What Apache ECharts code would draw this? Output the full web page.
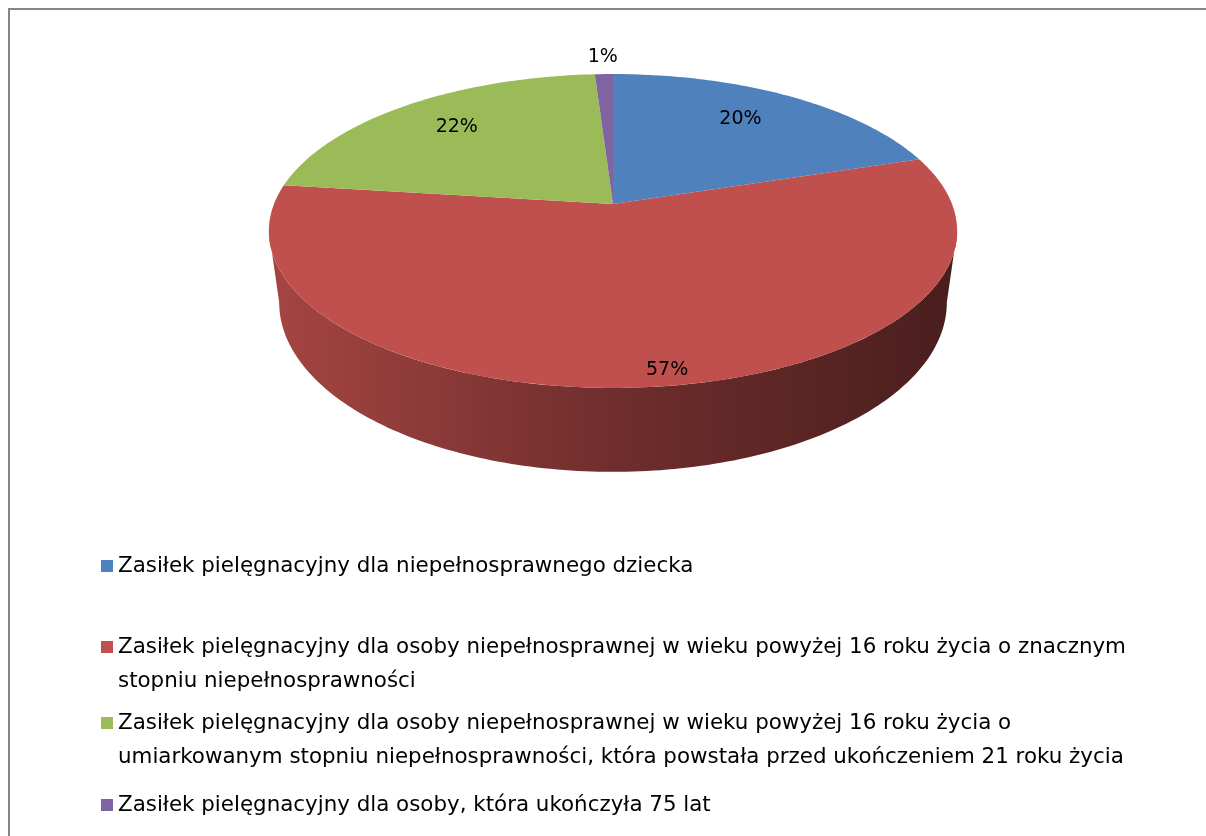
<!DOCTYPE html>
<html>
<head>
<meta charset="utf-8">
<script src="https://cdn.jsdelivr.net/npm/echarts@6/dist/echarts.min.js"></script>
<style>
  html, body { margin: 0; background: #fff; }
  #chart { width: 1206px; height: 836px; }
</style>
</head>
<body>
<div id="chart"></div>
<script>
const categories = [
  'Zasiłek pielęgnacyjny dla niepełnosprawnego dziecka',
  'Zasiłek pielęgnacyjny dla osoby niepełnosprawnej w wieku powyżej 16 roku życia o znacznym stopniu niepełnosprawności',
  'Zasiłek pielęgnacyjny dla osoby niepełnosprawnej w wieku powyżej 16 roku życia o umiarkowanym stopniu niepełnosprawności, która powstała przed ukończeniem 21 roku życia',
  'Zasiłek pielęgnacyjny dla osoby, która ukończyła 75 lat'
];
const values = [20, 57, 22, 1];
const colors = ['#4F81BD', '#C0504D', '#9BBB59', '#8064A2'];
// where the long legend entries wrap
const legendBreaks = ['', 'znacznym ', 'życia o ', ''];

const total = values.reduce((a, b) => a + b, 0);
const starts = [];
let acc = 0;
values.forEach(v => { starts.push(acc / total * 360); acc += v; });

// tilted pie, simple perspective
const CX = 613, CY = 204, A = 339, B = 152.3, K = 0.172, DEPTH = 69.5, SHRINK = 0.97;
const SIDE_FROM = Math.acos(-K) * 180 / Math.PI;
const SIDE_TO = 360 - SIDE_FROM;
const FONT = 'DejaVu Sans';

function shade(color, f) {
  const c = echarts.color.parse(color);
  return 'rgb(' + Math.round(c[0] * f) + ',' + Math.round(c[1] * f) + ',' + Math.round(c[2] * f) + ')';
}
function topPt(deg, f) {
  const r = deg * Math.PI / 180;
  const u = Math.sin(r) * f, v = -Math.cos(r) * f;
  const w = 1 - K * v;
  return [CX + A * u / w, CY + B * v / w];
}
function bottomPt(deg) {
  const r = deg * Math.PI / 180;
  const u = Math.sin(r), v = -Math.cos(r);
  const w = 1 - K * v;
  return [CX + SHRINK * A * u / w, CY + B * v / w + DEPTH / w];
}
function arc(from, to, fn) {
  const pts = [];
  const step = from < to ? 1 : -1;
  for (let t = from; step > 0 ? t < to : t > to; t += step) pts.push(fn(t));
  pts.push(fn(to));
  return pts;
}

function renderSlice(i) {
  return function (params, api) {
    const value = api.value(0);
    const s = starts[i], e = s + value / total * 360;
    const children = [];
    const lo = Math.max(s, SIDE_FROM), hi = Math.min(e, SIDE_TO);
    if (hi > lo) {
      const pts = arc(lo, hi, t => topPt(t, 1)).concat(arc(hi, lo, bottomPt));
      children.push({
        type: 'polygon',
        shape: { points: pts },
        style: {
          fill: new echarts.graphic.LinearGradient(0, 0, 1, 0, [
            { offset: 0, color: shade(colors[i], 0.86) },
            { offset: 0.5, color: shade(colors[i], 0.58) },
            { offset: 1, color: shade(colors[i], 0.38) }
          ])
        }
      });
    }
    const face = [[CX, CY]].concat(arc(s, e, t => topPt(t, 1)));
    children.push({ type: 'polygon', shape: { points: face }, style: { fill: colors[i] } });

    const share = value / total;
    const mid = (s + e) / 2;
    const p = share < 0.05 ? topPt(mid, 1.16) : topPt(mid, 0.72);
    const v = -Math.cos(mid * Math.PI / 180);
    if (share >= 0.05) {
      if (v > 0) { p[1] += DEPTH * 0.6 * v; p[0] += 28 * v; }
      else { p[1] -= 4; p[0] -= 3; }
    }
    children.push({
      type: 'text',
      x: p[0], y: p[1], z2: 10,
      style: {
        text: Math.round(share * 100) + '%',
        fontFamily: FONT, fontSize: 19, fill: '#000',
        align: 'center', verticalAlign: 'middle'
      }
    });
    return { type: 'group', children: children };
  };
}

const legendTops = [549, 596, 672, 788];

const chart = echarts.init(document.getElementById('chart'));
chart.setOption({
  backgroundColor: '#fff',
  animation: false,
  graphic: [{
    type: 'rect',
    shape: { x: 9, y: 9, width: 1300, height: 900 },
    style: { fill: 'none', stroke: '#868686', lineWidth: 2 }
  }],
  legend: categories.map((name, i) => ({
    data: [name],
    orient: 'vertical',
    left: 101,
    top: legendTops[i],
    padding: 0,
    icon: 'rect',
    itemWidth: 12,
    itemHeight: 12,
    selectedMode: false,
    // blank first line keeps the icon level with the first text line
    formatter: n => legendBreaks[i] ? '\n' + n.replace(legendBreaks[i], legendBreaks[i].trim() + '\n') : n,
    textStyle: {
      fontFamily: FONT,
      fontSize: 21.4,
      color: '#000',
      lineHeight: 34
    }
  })),
  series: categories.map((name, i) => ({
    type: 'custom',
    name: name,
    coordinateSystem: 'none',
    color: colors[i],
    data: [[values[i]]],
    renderItem: renderSlice(i)
  }))
});
</script>
</body>
</html>
